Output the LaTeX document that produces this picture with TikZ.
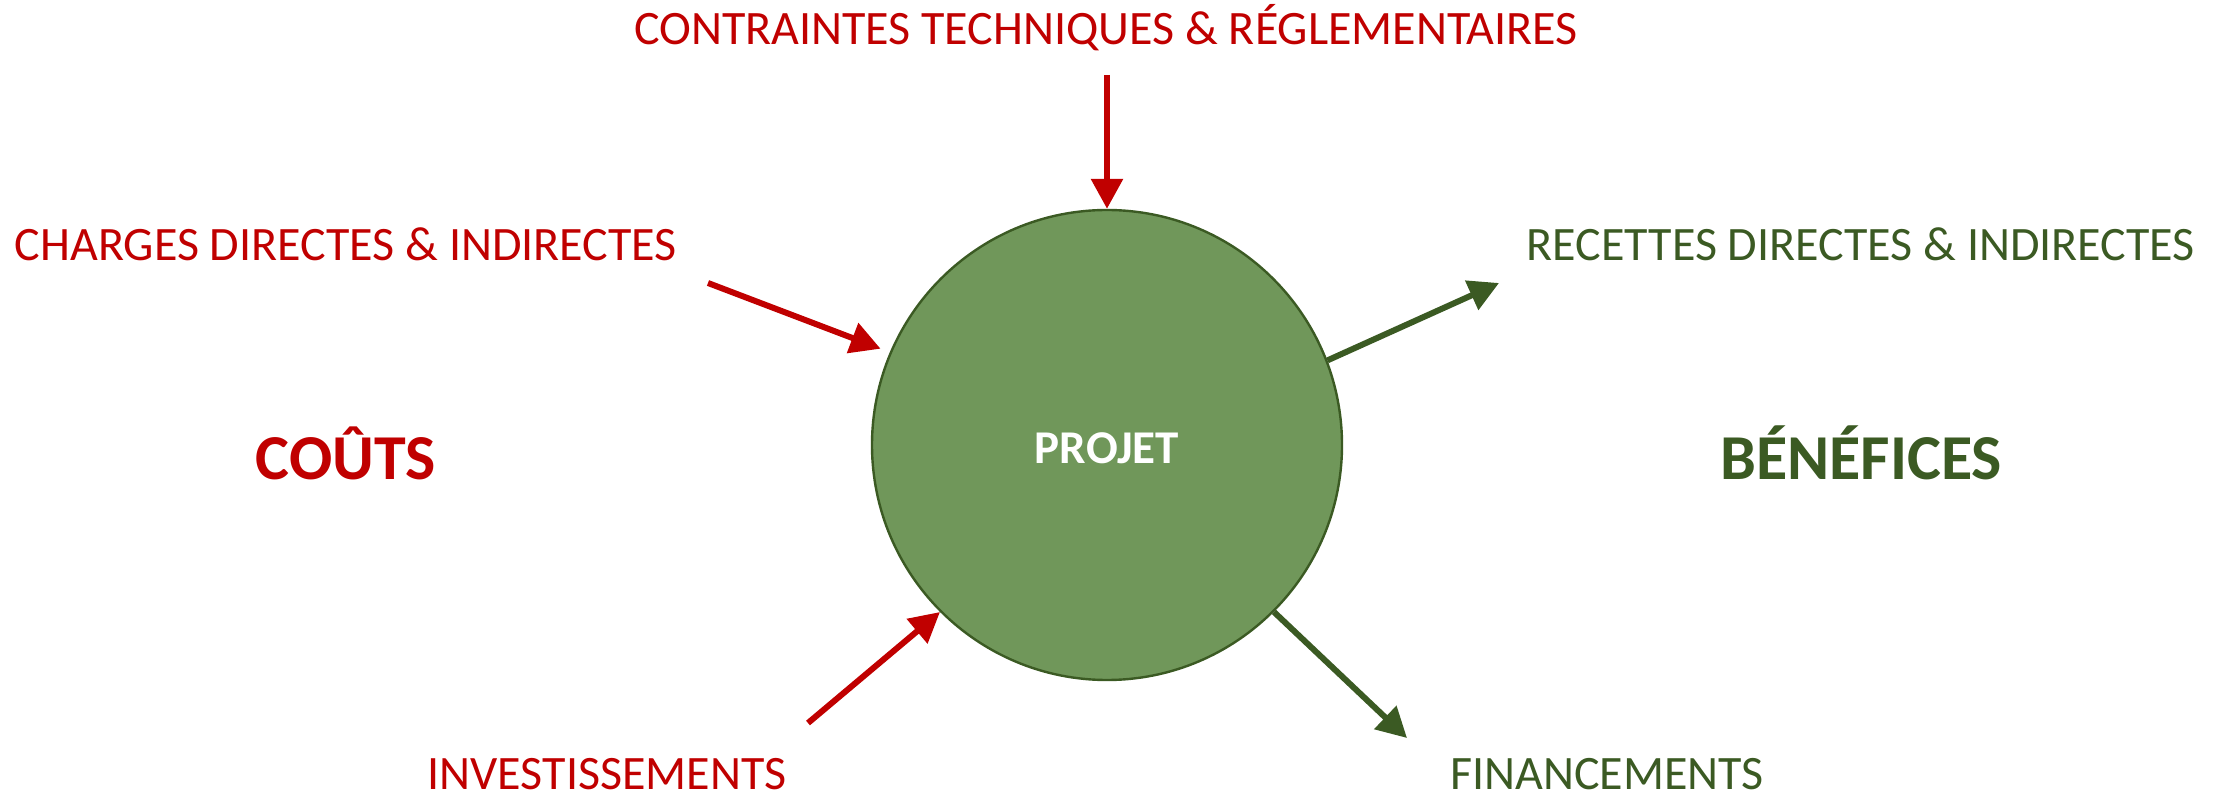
\documentclass[tikz,border=0pt]{standalone}
\usepackage{fontspec}
\setmainfont{Carlito}
\usetikzlibrary{arrows.meta}
\definecolor{cred}{HTML}{C00000}
\definecolor{cgreen}{HTML}{3B5A23}
\definecolor{cfill}{HTML}{70975A}
\begin{document}
\begin{tikzpicture}[x=0.5pt,y=-0.5pt,
  lbl/.style={inner sep=0pt,font=\fontsize{24}{28}\selectfont},
  big/.style={inner sep=0pt,font=\fontsize{32}{36}\selectfont\bfseries},
  redarrow/.style={draw=cred,line width=3pt,-{Triangle[length=15pt,width=15.5pt]}},
  greenarrow/.style={draw=cgreen,line width=3pt,-{Triangle[length=15pt,width=15.5pt]}}]
\useasboundingbox (0,0) rectangle (2224,796);
\node[circle,draw=cgreen,line width=1.2pt,fill=cfill,minimum size=235pt,inner sep=0pt] (c) at (1107,445) {};
\node[inner sep=0pt,text=white,font=\fontsize{23.5}{28}\selectfont\bfseries] (p) at (1107,448) {PROJET};
\node[lbl,text=cred] (t1) at (1106,28) {CONTRAINTES TECHNIQUES \& RÉGLEMENTAIRES};
\node[lbl,text=cred] (t2) at (346,244) {CHARGES DIRECTES \& INDIRECTES};
\node[lbl,text=cgreen] (t3) at (1861,244) {RECETTES DIRECTES \& INDIRECTES};
\node[big,text=cred] (t4) at (346,453) {COÛTS};
\node[big,text=cgreen] (t5) at (1861,453) {BÉNÉFICES};
\node[lbl,text=cred] (t6) at (607,774) {INVESTISSEMENTS};
\node[lbl,text=cgreen] (t7) at (1607,774) {FINANCEMENTS};
\coordinate (a1) at (1107,75);
\coordinate (a2) at (708,283);
\coordinate (a3) at (808,723);
\coordinate (b1) at (1499,283);
\coordinate (b2) at (1407,738);
\draw[redarrow] (a1) -- (c.90);
\draw[redarrow] (a2) -- ([shift={(-9,-4)}]c.157);
\draw[redarrow] (a3) -- (c.225);
\draw[greenarrow] (c.21) -- (b1);
\draw[greenarrow] (c.-45) -- (b2);
\end{tikzpicture}
\end{document}
